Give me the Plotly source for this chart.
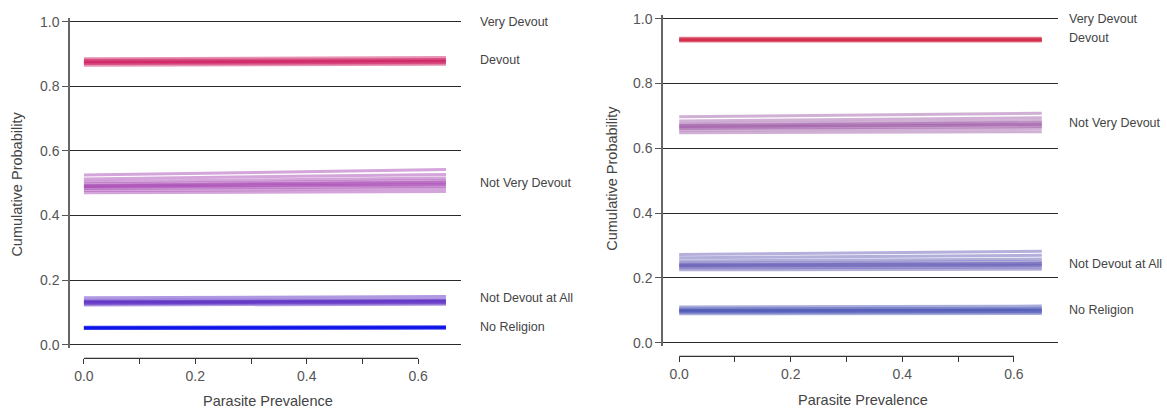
import plotly.graph_objects as go

W, H = 1167, 418

# ---------------- data ----------------
x_span = [0.0, 0.65]          # parasite prevalence range of the predicted lines
x_ticks = [0.0, 0.1, 0.2, 0.3, 0.4, 0.5, 0.6]
x_ticktext = ["0.0", "", "0.2", "", "0.4", "", "0.6"]
y_ticks = [0.0, 0.2, 0.4, 0.6, 0.8, 1.0]
y_ticktext = ["0.0", "0.2", "0.4", "0.6", "0.8", "1.0"]

categories = ["No Religion", "Not Devout at All", "Not Very Devout", "Devout", "Very Devout"]

# left panel: posterior draws (value at x=0 and at x=0.65)
L_nr_start = [0.049, 0.051, 0.053, 0.055]
L_nr_end = [0.050, 0.052, 0.054, 0.056]
L_nda_start = [0.123, 0.127, 0.130, 0.132, 0.134, 0.137, 0.145]
L_nda_end = [0.125, 0.129, 0.132, 0.134, 0.137, 0.140, 0.149]
L_nvd_start = [0.470, 0.477, 0.483, 0.487, 0.490, 0.493, 0.497, 0.504, 0.513, 0.525]
L_nvd_end = [0.474, 0.483, 0.490, 0.495, 0.499, 0.503, 0.508, 0.516, 0.527, 0.542]
L_dev_start = [0.865, 0.870, 0.873, 0.875, 0.877, 0.880, 0.885]
L_dev_end = [0.868, 0.873, 0.876, 0.878, 0.880, 0.883, 0.889]

# right panel
R_nr_start = [0.089, 0.094, 0.097, 0.099, 0.101, 0.104, 0.110]
R_nr_end = [0.090, 0.095, 0.098, 0.100, 0.103, 0.106, 0.113]
R_nda_start = [0.225, 0.231, 0.235, 0.238, 0.241, 0.245, 0.252, 0.262, 0.272]
R_nda_end = [0.227, 0.234, 0.238, 0.242, 0.245, 0.250, 0.258, 0.270, 0.282]
R_nvd_start = [0.648, 0.656, 0.661, 0.665, 0.668, 0.671, 0.676, 0.684, 0.697]
R_nvd_end = [0.651, 0.661, 0.667, 0.672, 0.675, 0.679, 0.685, 0.694, 0.708]
R_dev_start = [0.930, 0.933, 0.935, 0.937, 0.940]
R_dev_end = [0.930, 0.933, 0.935, 0.937, 0.940]

# label y positions
L_label_y = [0.054, 0.145, 0.501, 0.882, 1.0]
R_label_y = [0.102, 0.244, 0.678, 0.940, 1.0]

# ---------------- styles ----------------
FONT = "Liberation Sans, Arial, sans-serif"
L_colors = ["#0a10e8", "#5220c0", "#9a2aa8", "#cc1258"]
R_colors = ["#3f4ab0", "#4d42aa", "#8e3d98", "#d01c3c"]

fig = go.Figure()


def add_draws(starts, ends, color, xa, ya, width, opacity):
    for s, e in zip(starts, ends):
        fig.add_trace(go.Scatter(
            x=x_span, y=[s, e], mode="lines", xaxis=xa, yaxis=ya,
            line=dict(color=color, width=width), opacity=opacity,
            showlegend=False, hoverinfo="skip"))


add_draws(L_nr_start, L_nr_end, L_colors[0], "x", "y", 2.5, 0.7)
add_draws(L_nda_start, L_nda_end, L_colors[1], "x", "y", 3, 0.45)
add_draws(L_nvd_start, L_nvd_end, L_colors[2], "x", "y", 3, 0.42)
add_draws(L_dev_start, L_dev_end, L_colors[3], "x", "y", 3, 0.45)

add_draws(R_nr_start, R_nr_end, R_colors[0], "x2", "y2", 3, 0.45)
add_draws(R_nda_start, R_nda_end, R_colors[1], "x2", "y2", 3, 0.42)
add_draws(R_nvd_start, R_nvd_end, R_colors[2], "x2", "y2", 3, 0.4)
add_draws(R_dev_start, R_dev_end, R_colors[3], "x2", "y2", 2.5, 0.55)


def px_x(p):
    return p / W


def px_y(p):
    return 1 - p / H


L_xdom = [px_x(70), px_x(461)]
R_xdom = [px_x(663), px_x(1058)]
L_ydom = [px_y(351.3), px_y(13.7)]
R_ydom = [px_y(349.3), px_y(10.7)]
L_xpos = px_y(362)
R_xpos = px_y(360)

tickfont = dict(family=FONT, size=14, color="#555555")

xcommon = dict(tickvals=x_ticks, ticktext=x_ticktext, ticks="outside", ticklen=5,
               tickcolor="#333333", tickwidth=1.2, showgrid=False, zeroline=False,
               showline=False, tickfont=tickfont, anchor="free", fixedrange=True)
ycommon = dict(tickvals=y_ticks, ticktext=y_ticktext, ticks="outside", ticklen=6,
               tickcolor="#555555", tickwidth=1.2, showgrid=True, gridcolor="#2a2a2a",
               gridwidth=1, zeroline=False, showline=True, linecolor="#666666",
               linewidth=1.5, tickfont=tickfont, range=[-0.01, 1.01], fixedrange=True)

fig.update_layout(
    width=W, height=H,
    margin=dict(l=0, r=0, t=0, b=0),
    paper_bgcolor="white", plot_bgcolor="white",
    font=dict(family=FONT, color="#444444"),
    xaxis=dict(domain=L_xdom, range=[-0.025, 0.677], position=L_xpos, **xcommon),
    yaxis=dict(domain=L_ydom, anchor="x", **ycommon),
    xaxis2=dict(domain=R_xdom, range=[-0.029, 0.679], position=R_xpos, **xcommon),
    yaxis2=dict(domain=R_ydom, anchor="x2", **ycommon),
)

# x-axis baselines spanning 0.0 .. 0.6
fig.add_shape(type="line", xref="x", yref="paper", x0=x_ticks[0], x1=x_ticks[-1],
              y0=L_xpos, y1=L_xpos, line=dict(color="#333333", width=1.2))
fig.add_shape(type="line", xref="x2", yref="paper", x0=x_ticks[0], x1=x_ticks[-1],
              y0=R_xpos, y1=R_xpos, line=dict(color="#333333", width=1.2))

labfont = dict(family=FONT, size=12.5, color="#444444")
for name, yv in zip(categories, L_label_y):
    fig.add_annotation(x=px_x(478), y=yv, xref="paper", yref="y", text=name,
                       showarrow=False, xanchor="left", yanchor="middle", font=labfont)
for name, yv in zip(categories, R_label_y):
    fig.add_annotation(x=px_x(1067), y=yv, xref="paper", yref="y2", text=name,
                       showarrow=False, xanchor="left", yanchor="middle", font=labfont)

titlefont = dict(family=FONT, size=14.5, color="#444444")
fig.add_annotation(x=px_x(268), y=px_y(406), xref="paper", yref="paper",
                   text="Parasite Prevalence", showarrow=False, font=titlefont,
                   xanchor="center", yanchor="middle")
fig.add_annotation(x=px_x(863), y=px_y(405), xref="paper", yref="paper",
                   text="Parasite Prevalence", showarrow=False, font=titlefont,
                   xanchor="center", yanchor="middle")
fig.add_annotation(x=px_x(17), y=px_y(184), xref="paper", yref="paper",
                   text="Cumulative Probability", showarrow=False, font=titlefont,
                   textangle=-90, xanchor="center", yanchor="middle")
fig.add_annotation(x=px_x(612), y=px_y(178), xref="paper", yref="paper",
                   text="Cumulative Probability", showarrow=False, font=titlefont,
                   textangle=-90, xanchor="center", yanchor="middle")

fig.write_html("out.html")
